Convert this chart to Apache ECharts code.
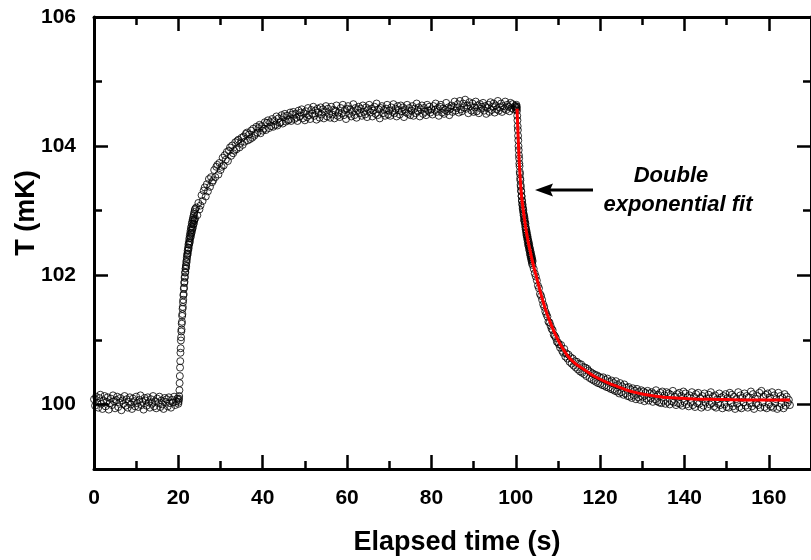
<!DOCTYPE html>
<html><head><meta charset="utf-8">
<script src="https://cdn.jsdelivr.net/npm/echarts@6/dist/echarts.min.js"></script>
<style>html,body{margin:0;padding:0;background:#fff}#c{width:811px;height:560px}</style>
</head><body><div id="c"></div>
<script>
// ---- data ----
// baseline, t = 0 .. 20 s, every 0.25 s
const baseStart = 0, baseStep = 0.25;
const baseTemp = [
100.08, 99.98, 100.12, 100.03, 99.95, 100.10, 100.15, 100.01, 99.93, 100.06,
100.13, 99.97, 100.04, 100.11, 99.92, 100.02, 100.09, 99.99, 100.14, 100.05,
99.94, 100.07, 100.12, 99.96, 100.03, 100.10, 99.91, 100.06, 100.01, 100.13,
99.98, 100.08, 99.95, 100.04, 100.11, 100.00, 99.93, 100.09, 100.05, 99.97,
100.12, 100.02, 99.96, 100.07, 100.14, 99.99, 100.04, 99.92, 100.10, 100.06,
99.98, 100.11, 100.03, 99.95, 100.08, 100.01, 100.13, 99.97, 100.05, 99.94,
100.09, 100.02, 100.12, 99.96, 100.06, 100.00, 99.93, 100.10, 100.04, 100.08,
99.97, 100.11, 100.02, 99.95, 100.07, 100.03, 100.12, 99.99, 100.05, 100.09, 100.01
];
// heating step, t = 20.05 .. 24.00 s, every 0.05 s
const riseStart = 20.05, riseStep = 0.05;
const riseTemp = [
100.04, 100.07, 100.09, 100.13, 100.22, 100.33, 100.44, 100.57, 100.67, 100.80,
100.87, 100.99, 101.04, 101.13, 101.16, 101.25, 101.28, 101.37, 101.40, 101.48,
101.51, 101.58, 101.62, 101.69, 101.71, 101.79, 101.81, 101.88, 101.90, 101.96,
101.98, 102.04, 102.05, 102.10, 102.11, 102.16, 102.14, 102.22, 102.20, 102.28,
102.25, 102.33, 102.31, 102.38, 102.34, 102.43, 102.39, 102.48, 102.42, 102.52,
102.47, 102.57, 102.50, 102.61, 102.53, 102.65, 102.58, 102.69, 102.60, 102.73,
102.64, 102.76, 102.66, 102.80, 102.70, 102.83, 102.72, 102.86, 102.75, 102.89,
102.79, 102.92, 102.80, 102.95, 102.84, 102.98, 102.86, 103.01, 102.88, 103.03
];
// approach and plateau, t = 24.25 .. 100.00 s, every 0.25 s
const plateauStart = 24.25, plateauStep = 0.25;
const plateauTemp = [
103.05, 102.93, 103.12, 103.02,
103.08, 103.24, 103.15, 103.31,
103.36, 103.22, 103.41, 103.30,
103.49, 103.37, 103.52, 103.44,
103.47, 103.63, 103.52, 103.68,
103.71, 103.56, 103.74, 103.63,
103.68, 103.82, 103.70, 103.86,
103.79, 103.91, 103.77, 103.93,
103.98, 103.85, 104.01, 103.89,
103.93, 104.06, 103.95, 104.08,
104.10, 103.98, 104.05, 104.13,
104.02, 104.15, 104.07, 104.19,
104.21, 104.09, 104.18, 104.11,
104.24, 104.13, 104.27, 104.16,
104.19, 104.30, 104.21, 104.28,
104.33, 104.20, 104.31, 104.24,
104.27, 104.37, 104.25, 104.36,
104.40, 104.28, 104.37, 104.31,
104.42, 104.30, 104.39, 104.33,
104.46, 104.32, 104.43, 104.36,
104.37, 104.48, 104.35, 104.45,
104.50, 104.38, 104.47, 104.40,
104.41, 104.52, 104.39, 104.49,
104.53, 104.42, 104.50, 104.44,
104.39, 104.55, 104.46, 104.52,
104.57, 104.43, 104.51, 104.40,
104.54, 104.45, 104.59, 104.48,
104.42, 104.56, 104.50, 104.61,
104.47, 104.55, 104.41, 104.58,
104.52, 104.44, 104.60, 104.49,
104.57, 104.43, 104.54, 104.62,
104.46, 104.58, 104.50, 104.44,
104.61, 104.49, 104.56, 104.43,
104.55, 104.63, 104.47, 104.52,
104.45, 104.59, 104.51, 104.64,
104.48, 104.56, 104.42, 104.58,
104.62, 104.50, 104.57, 104.46,
104.53, 104.65, 104.48, 104.59,
104.44, 104.56, 104.61, 104.51,
104.58, 104.47, 104.63, 104.53,
104.49, 104.60, 104.45, 104.57,
104.64, 104.52, 104.58, 104.46,
104.55, 104.61, 104.50, 104.66,
104.48, 104.57, 104.43, 104.59,
104.62, 104.51, 104.56, 104.47,
104.58, 104.64, 104.49, 104.55,
104.47, 104.60, 104.53, 104.65,
104.51, 104.58, 104.46, 104.62,
104.56, 104.49, 104.63, 104.54,
104.60, 104.45, 104.57, 104.52,
104.64, 104.50, 104.59, 104.48,
104.55, 104.62, 104.47, 104.58,
104.51, 104.66, 104.54, 104.60,
104.46, 104.57, 104.63, 104.50,
104.59, 104.53, 104.48, 104.64,
104.55, 104.61, 104.52, 104.57,
104.49, 104.62, 104.56, 104.66,
104.53, 104.59, 104.47, 104.61,
104.64, 104.52, 104.58, 104.50,
104.56, 104.67, 104.54, 104.60,
104.48, 104.58, 104.63, 104.53,
104.61, 104.69, 104.55, 104.59,
104.65, 104.52, 104.70, 104.57,
104.54, 104.66, 104.60, 104.72,
104.58, 104.63, 104.51, 104.68,
104.62, 104.55, 104.66, 104.53,
104.60, 104.69, 104.54, 104.63,
104.51, 104.65, 104.58, 104.61,
104.67, 104.55, 104.62, 104.50,
104.59, 104.64, 104.53, 104.68,
104.56, 104.61, 104.66, 104.52,
104.63, 104.57, 104.70, 104.55,
104.60, 104.66, 104.53, 104.62,
104.58, 104.69, 104.56, 104.64,
104.61, 104.54, 104.67, 104.59,
104.65, 104.57, 104.62, 104.60
];
// cooling step, t = 100.05 .. 104.00 s, every 0.05 s
const fallStart = 100.05, fallStep = 0.05;
const fallTemp = [
104.62, 104.57, 104.64, 104.59, 104.61, 104.55, 104.47, 104.40, 104.31, 104.25,
104.16, 104.09, 104.00, 103.94, 103.86, 103.81, 103.73, 103.69, 103.60, 103.57,
103.50, 103.47, 103.40, 103.37, 103.31, 103.30, 103.23, 103.22, 103.15, 103.16,
103.09, 103.10, 103.03, 103.05, 102.98, 103.01, 102.93, 102.95, 102.86, 102.91,
102.84, 102.88, 102.80, 102.83, 102.75, 102.80, 102.71, 102.74, 102.66, 102.70,
102.62, 102.67, 102.59, 102.63, 102.55, 102.60, 102.51, 102.56, 102.47, 102.53,
102.45, 102.50, 102.41, 102.47, 102.38, 102.43, 102.34, 102.40, 102.31, 102.37,
102.28, 102.34, 102.25, 102.31, 102.22, 102.28, 102.19, 102.25, 102.16, 102.22
];
// relaxation tail, t = 104.25 .. 165.00 s, every 0.25 s
const tailStart = 104.25, tailStep = 0.25;
const tailTemp = [
102.10, 102.03, 101.98, 101.92,
101.84, 101.80, 101.71, 101.68,
101.62, 101.55, 101.51, 101.44,
101.40, 101.36, 101.28, 101.27,
101.22, 101.17, 101.15, 101.08,
101.06, 101.03, 100.97, 100.96,
100.93, 100.88, 100.92, 100.83,
100.80, 100.86, 100.74, 100.79,
100.71, 100.77, 100.66, 100.73,
100.63, 100.71, 100.60, 100.67,
100.57, 100.66, 100.54, 100.63,
100.51, 100.62, 100.49, 100.58,
100.47, 100.57, 100.44, 100.55,
100.52, 100.41, 100.50, 100.39,
100.48, 100.37, 100.46, 100.35,
100.45, 100.33, 100.43, 100.32,
100.41, 100.30, 100.42, 100.29,
100.38, 100.27, 100.40, 100.26,
100.35, 100.24, 100.37, 100.23,
100.33, 100.21, 100.36, 100.20,
100.30, 100.17, 100.33, 100.19,
100.28, 100.15, 100.31, 100.17,
100.26, 100.13, 100.27, 100.12,
100.23, 100.10, 100.25, 100.14,
100.21, 100.08, 100.24, 100.11,
100.19, 100.07, 100.22, 100.12,
100.20, 100.05, 100.18, 100.09,
100.21, 100.06, 100.17, 100.10,
100.19, 100.04, 100.16, 100.08,
100.22, 100.05, 100.15, 100.03,
100.18, 100.02, 100.20, 100.06,
100.14, 100.01, 100.19, 100.04,
100.17, 100.00, 100.15, 100.05,
100.21, 100.03, 100.12, 99.99,
100.16, 100.02, 100.18, 100.01,
100.13, 99.98, 100.20, 100.04,
100.17, 100.00, 100.11, 99.97,
100.14, 100.03, 100.19, 99.99,
100.12, 99.96, 100.16, 100.02,
100.18, 100.01, 100.10, 99.95,
100.13, 99.98, 100.17, 100.03,
100.09, 99.96, 100.15, 100.00,
100.19, 100.02, 100.12, 99.97,
100.14, 99.95, 100.08, 100.01,
100.17, 99.99, 100.11, 99.94,
100.13, 100.00, 100.16, 99.96,
100.10, 99.95, 100.18, 100.02,
100.15, 99.97, 100.12, 99.93,
100.08, 100.01, 100.19, 99.96,
100.14, 99.94, 100.10, 100.03,
100.17, 99.98, 100.13, 99.95,
100.11, 100.02, 100.20, 99.97,
100.16, 99.93, 100.09, 100.01,
100.13, 99.99, 100.18, 99.95,
100.21, 100.03, 100.12, 99.96,
100.15, 99.94, 100.17, 100.00,
100.11, 99.97, 100.19, 99.95,
100.14, 100.02, 100.08, 99.93,
100.18, 99.96, 100.13, 100.01,
100.10, 99.94, 100.16, 99.98,
100.12, 100.03, 100.07, 99.99
];
// double exponential fit (red curve)
const fitTime = [100.3,100.5,100.75,101,101.25,101.5,101.75,102,102.5,103,103.5,104,
  105,106,107,108,109,110,111,112,113,114,115,116,
  118,120,122,124,126,128,130,132,135,138,142,146,150,155,160,165];
const fitTemp = [104.58,104.25,103.85,103.55,103.32,103.15,103.02,102.9,102.68,102.5,102.35,102.2,
  101.95,101.7,101.48,101.3,101.14,101.0,100.88,100.78,100.7,100.64,100.59,100.55,
  100.46,100.39,100.33,100.28,100.23,100.19,100.16,100.14,100.11,100.1,100.085,100.08,100.075,100.07,100.07,100.07];
// axis ticks
const xMajorTicks = [0,20,40,60,80,100,120,140,160];
const xMinorTicks = [10,30,50,70,90,110,130,150];
const yMajorTicks = [100,102,104,106];
const yMinorTicks = [99,101,103,105];

// ---- build ----
function seg(start, step, vals) { return vals.map((v, i) => [+(start + i * step).toFixed(3), v]); }
const points = [].concat(
  seg(baseStart, baseStep, baseTemp),
  seg(riseStart, riseStep, riseTemp),
  seg(plateauStart, plateauStep, plateauTemp),
  seg(fallStart, fallStep, fallTemp),
  seg(tailStart, tailStep, tailTemp)
);
const fitData = fitTime.map((t, i) => [t, fitTemp[i]]);

const FONT = '"Liberation Sans", Arial, Helvetica, sans-serif';
const G = { left: 94, right: -9, top: 17, bottom: 91 };

function xAx(grid, pos, ticks, len, labels, line) {
  return { type: 'value', gridIndex: grid, position: pos, min: 0, max: 170, interval: 10,
    axisLine: { show: line, onZero: false, lineStyle: { color: '#000', width: 3 } },
    axisTick: { show: true, inside: true, length: len, customValues: ticks, lineStyle: { color: '#000', width: 2.5 } },
    axisLabel: { show: labels, customValues: xMajorTicks, margin: 19, color: '#000', fontSize: 21, fontWeight: 'bold', fontFamily: FONT },
    splitLine: { show: false }, minorTick: { show: false } };
}
function yAx(grid, pos, ticks, len, labels, line) {
  return { type: 'value', gridIndex: grid, position: pos, min: 99, max: 106, interval: 1,
    axisLine: { show: line, onZero: false, lineStyle: { color: '#000', width: 3 } },
    axisTick: { show: true, inside: true, length: len, customValues: ticks, lineStyle: { color: '#000', width: 2.5 } },
    axisLabel: { show: labels, customValues: yMajorTicks, margin: 18, color: '#000', fontSize: 21, fontWeight: 'bold', fontFamily: FONT },
    splitLine: { show: false }, minorTick: { show: false } };
}

const chart = echarts.init(document.getElementById('c'), null, { renderer: 'canvas' });
chart.setOption({
  animation: false,
  backgroundColor: '#fff',
  grid: [Object.assign({}, G), Object.assign({}, G)],
  xAxis: [
    xAx(0, 'bottom', xMajorTicks, 14, true, true),
    xAx(0, 'top', xMajorTicks, 14, false, true),
    xAx(1, 'bottom', xMinorTicks, 8, false, false),
    xAx(1, 'top', xMinorTicks, 8, false, false)
  ],
  yAxis: [
    yAx(0, 'left', yMajorTicks, 14, true, true),
    yAx(0, 'right', yMajorTicks, 14, false, true),
    yAx(1, 'left', yMinorTicks, 8, false, false),
    yAx(1, 'right', yMinorTicks, 8, false, false)
  ],
  series: [
    { type: 'scatter', xAxisIndex: 0, yAxisIndex: 0, data: points, symbol: 'circle', symbolSize: 7,
      itemStyle: { color: 'rgba(255,255,255,0)', borderColor: '#000', borderWidth: 1 }, z: 2 },
    { type: 'line', xAxisIndex: 0, yAxisIndex: 0, data: fitData, smooth: 0.3, showSymbol: false, symbol: 'none',
      lineStyle: { color: '#ff0000', width: 3 }, z: 3 }
  ],
  graphic: [
    { type: 'text', style: { text: 'Elapsed time (s)', x: 457, y: 543, textAlign: 'center', textVerticalAlign: 'middle',
      fill: '#000', font: 'bold 27px ' + FONT } },
    { type: 'text', x: 27, y: 213, rotation: Math.PI / 2,
      style: { text: 'T (mK)', x: 0, y: 0, textAlign: 'center', textVerticalAlign: 'middle', fill: '#000', font: 'bold 27px ' + FONT } },
    { type: 'text', style: { text: 'Double', x: 671, y: 176, textAlign: 'center', textVerticalAlign: 'middle', fill: '#000', font: 'italic bold 22px ' + FONT } },
    { type: 'text', style: { text: 'exponential fit', x: 678, y: 205, textAlign: 'center', textVerticalAlign: 'middle', fill: '#000', font: 'italic bold 22px ' + FONT } },
    { type: 'line', shape: { x1: 593, y1: 190, x2: 548, y2: 190 }, style: { stroke: '#000', lineWidth: 3 } },
    { type: 'polygon', shape: { points: [[535, 190], [553, 183.5], [550, 190], [553, 196.5]] }, style: { fill: '#000' } }
  ]
});
</script></body></html>
